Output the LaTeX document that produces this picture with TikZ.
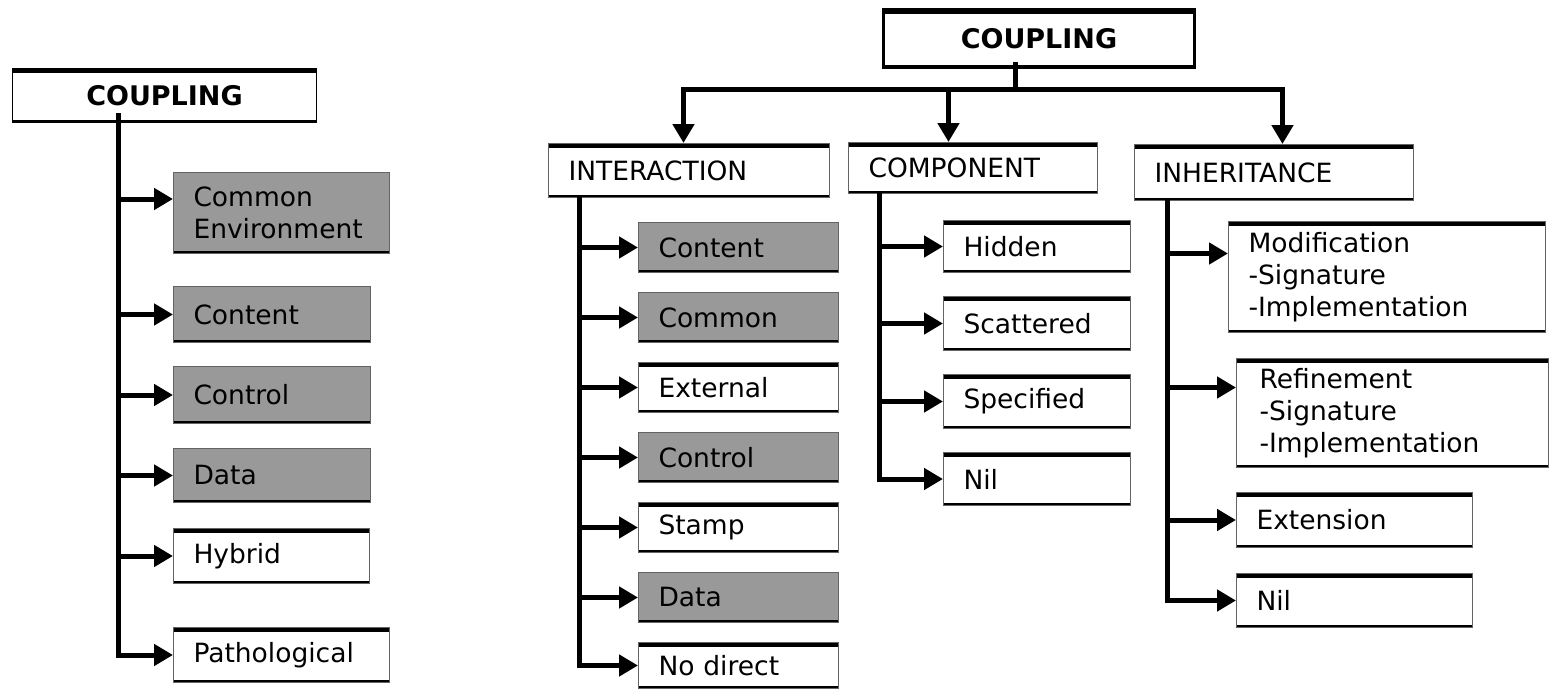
\documentclass[tikz,border=0pt]{standalone}
\usepackage{fontspec}
\setmainfont{DejaVu Sans}
\usetikzlibrary{arrows.meta}
\definecolor{boxgray}{RGB}{153,153,153}
\definecolor{edgegray}{RGB}{100,100,100}
\newcommand{\boxfont}{\fontsize{26.5}{32}\selectfont}
\newcommand{\headfont}{\fontsize{27}{32}\selectfont\bfseries}

\tikzset{
  box/.style = {draw = edgegray, line width = 1pt, inner xsep = 20pt, inner ysep = 0pt, anchor = north west, align = left, font = \boxfont},
  gbox/.style = {box, fill = boxgray, path picture = {\draw[black, line width = 6pt] (path picture bounding box.south west) -- (path picture bounding box.south east);}},
  wbox/.style = {box, fill = white, path picture = {\draw[black, line width = 8pt] (path picture bounding box.north west) -- (path picture bounding box.north east); \draw[black, line width = 6pt] (path picture bounding box.south west) -- (path picture bounding box.south east);}},
  link/.style = {line width = 5pt},
  arr/.style = {line width = 5pt, -{Triangle[length = 19pt, width = 21pt]}}
}

\begin{document}
\begin{tikzpicture}[x = 1pt, y = -1pt]
\path[use as bounding box, fill = white] (0,0) rectangle (1550,689);

\node[wbox, draw = black, text width = 264pt, minimum height = 54pt, align = center, font = \headfont] (lc) at (12,68) {COUPLING};
\node[gbox, text width = 176pt, minimum height = 81pt] (lce) at (173,172) {Common\\Environment};
\node[gbox, text width = 157pt, minimum height = 56pt] (lco) at (173,286) {Content};
\node[gbox, text width = 157pt, minimum height = 57pt] (lct) at (173,366) {Control};
\node[gbox, text width = 157pt, minimum height = 54pt] (lda) at (173,448) {Data};
\node[wbox, text width = 156pt, minimum height = 55pt] (lhy) at (173,528) {Hybrid};
\node[wbox, text width = 176pt, minimum height = 55pt] (lpa) at (173,627) {Pathological};
\coordinate (ls) at (118,113);
\coordinate (lce-in) at ([yshift = 14pt]lce.west);
\draw[arr] (ls) |- (lpa.west);
\draw[arr] (ls |- lce-in) -- (lce-in);
\draw[arr] (ls |- lco.west) -- (lco.west);
\draw[arr] (ls |- lct.west) -- (lct.west);
\draw[arr] (ls |- lda.west) -- (lda.west);
\draw[arr] (ls |- lhy.west) -- (lhy.west);

\node[wbox, draw = black, line width = 3pt, text width = 271pt, minimum height = 58pt, align = center, font = \headfont] (rc) at (882,8) {COUPLING};
\node[wbox, text width = 241pt, minimum height = 54pt] (ha) at (548,143) {INTERACTION};
\node[wbox, text width = 209pt, minimum height = 51pt] (hb) at (848,142) {COMPONENT};
\node[wbox, text width = 239pt, minimum height = 56pt] (hc) at (1134,144) {INHERITANCE};
\coordinate (rs) at (1015,62);
\coordinate (bar) at (1015,89);
\draw[link] (rs) -- (bar);
\draw[arr] (bar) -| ([xshift = -5.5pt]ha.north);
\draw[arr] (bar) -| ([xshift = -24.5pt]hb.north);
\draw[arr] (bar) -| ([xshift = 8.5pt]hc.north);

\node[gbox, text width = 160pt, minimum height = 50pt] (i1) at (638,222) {Content};
\node[gbox, text width = 160pt, minimum height = 50pt] (i2) at (638,292) {Common};
\node[wbox, text width = 160pt, minimum height = 50pt] (i3) at (638,362) {External};
\node[gbox, text width = 160pt, minimum height = 50pt] (i4) at (638,432) {Control};
\node[wbox, text width = 160pt, minimum height = 50pt] (i5) at (638,502) {Stamp};
\node[gbox, text width = 160pt, minimum height = 50pt] (i6) at (638,572) {Data};
\node[wbox, text width = 160pt, minimum height = 46pt] (i7) at (638,642) {No direct};
\coordinate (is) at (579,197);
\draw[arr] (is) |- (i7.west);
\draw[arr] (is |- i1.west) -- (i1.west);
\draw[arr] (is |- i2.west) -- (i2.west);
\draw[arr] (is |- i3.west) -- (i3.west);
\draw[arr] (is |- i4.west) -- (i4.west);
\draw[arr] (is |- i5.west) -- (i5.west);
\draw[arr] (is |- i6.west) -- (i6.west);

\node[wbox, text width = 147pt, minimum height = 52pt] (c1) at (943,220) {Hidden};
\node[wbox, text width = 147pt, minimum height = 54pt] (c2) at (943,296) {Scattered};
\node[wbox, text width = 147pt, minimum height = 54pt] (c3) at (943,374) {Specified};
\node[wbox, text width = 147pt, minimum height = 53pt] (c4) at (943,452) {Nil};
\coordinate (cs) at (879,193);
\draw[arr] (cs) |- (c4.west);
\draw[arr] (cs |- c1.west) -- (c1.west);
\draw[arr] (cs |- c2.west) -- (c2.west);
\draw[arr] (cs |- c3.west) -- (c3.west);

\node[wbox, text width = 277pt, minimum height = 111pt] (n1) at (1228,221) {Modification\\-Signature\\-Implementation};
\node[wbox, text width = 266pt, minimum height = 109pt, inner xsep = 23pt] (n2) at (1236,358) {Refinement\\-Signature\\-Implementation};
\node[wbox, text width = 196pt, minimum height = 55pt] (n3) at (1236,492) {Extension};
\node[wbox, text width = 196pt, minimum height = 54pt] (n4) at (1236,573) {Nil};
\coordinate (ns) at (1167,200);
\coordinate (n1-in) at ([yshift = 23.5pt]n1.west);
\coordinate (n2-in) at ([yshift = 25.5pt]n2.west);
\draw[arr] (ns) |- (n4.west);
\draw[arr] (ns |- n1-in) -- (n1-in);
\draw[arr] (ns |- n2-in) -- (n2-in);
\draw[arr] (ns |- n3.west) -- (n3.west);
\end{tikzpicture}
\end{document}
